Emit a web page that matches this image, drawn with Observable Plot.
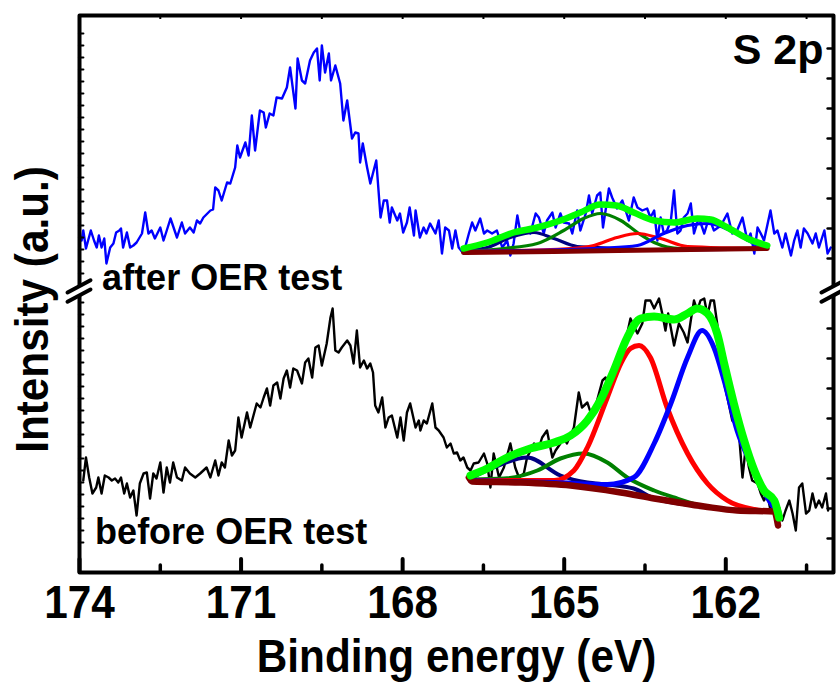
<!DOCTYPE html>
<html><head><meta charset="utf-8">
<script src="https://cdn.jsdelivr.net/npm/d3@7"></script>
<script src="https://cdn.jsdelivr.net/npm/@observablehq/plot@0.6"></script>
<style>
html,body{margin:0;padding:0;background:#fff;}
#chart{width:840px;height:682px;}
</style></head><body><div id="chart"></div>
<script>
// ---- axis ticks ----
const energyTicks = [174, 171, 168, 165, 162];
const minorTicks = [172.5, 169.5, 166.5, 163.5, 160.5];
const xLabel = "Binding energy (eV)";
const yLabel = "Intensity (a.u.)";
const panelTitle = "S 2p";
const breakLevel = 281;
const sampleLabels = [
  {text: "after OER test", e: 173.58, i: 283},
  {text: "before OER test", e: 173.71, i: 29}
];

// ---- measured spectra [binding energy, intensity] ----
const afterOER = [[173.96,332],[173.93,342],[173.88,324],[173.79,342],[173.73,332],[173.68,325],[173.64,337],[173.59,325],[173.54,334],[173.50,309],[173.43,325],[173.37,329],[173.32,340],[173.26,342],[173.23,344],[173.19,325],[173.12,340],[173.06,325],[173.00,327],[172.94,330],[172.84,339],[172.78,360],[172.72,339],[172.66,342],[172.60,334],[172.50,345],[172.44,332],[172.38,342],[172.31,354],[172.19,335],[172.10,350],[172.04,339],[171.95,345],[171.88,340],[171.82,352],[171.76,349],[171.70,355],[171.57,362],[171.52,363],[171.48,385],[171.42,382],[171.36,372],[171.26,390],[171.20,389],[171.11,405],[171.07,427],[171.02,415],[170.92,430],[170.86,417],[170.80,457],[170.74,422],[170.65,462],[170.58,460],[170.54,445],[170.47,459],[170.40,457],[170.34,475],[170.24,474],[170.15,485],[170.09,505],[169.99,464],[169.95,514],[169.87,492],[169.81,489],[169.72,512],[169.65,520],[169.59,524],[169.54,492],[169.50,527],[169.44,500],[169.37,519],[169.33,492],[169.25,507],[169.16,489],[169.10,452],[169.03,472],[168.94,434],[168.88,440],[168.82,439],[168.79,410],[168.74,429],[168.66,405],[168.60,389],[168.49,412],[168.41,355],[168.35,372],[168.29,372],[168.24,350],[168.20,365],[168.10,352],[168.05,359],[167.99,340],[167.92,350],[167.87,365],[167.79,337],[167.76,362],[167.68,335],[167.61,345],[167.56,339],[167.49,349],[167.39,339],[167.33,352],[167.27,319],[167.21,345],[167.14,342],[167.08,324],[167.02,342],[166.96,325],[166.87,319],[166.77,339],[166.71,350],[166.65,342],[166.56,354],[166.49,339],[166.43,342],[166.34,339],[166.25,342],[166.15,325],[166.06,332],[166.00,317],[165.94,329],[165.87,357],[165.81,339],[165.72,342],[165.63,339],[165.53,359],[165.47,355],[165.38,339],[165.32,352],[165.22,360],[165.16,345],[165.07,359],[165.01,350],[164.91,349],[164.85,339],[164.76,362],[164.70,342],[164.60,359],[164.54,377],[164.48,359],[164.39,377],[164.33,380],[164.28,345],[164.17,384],[164.11,375],[164.02,364],[163.92,372],[163.86,362],[163.80,352],[163.71,375],[163.64,365],[163.55,362],[163.46,364],[163.40,355],[163.33,362],[163.27,332],[163.21,355],[163.15,339],[163.09,342],[163.02,352],[162.96,382],[162.90,339],[162.84,342],[162.78,355],[162.71,359],[162.65,369],[162.59,339],[162.50,355],[162.40,339],[162.31,355],[162.22,342],[162.09,347],[161.97,359],[161.88,339],[161.79,342],[161.69,355],[161.60,332],[161.54,339],[161.47,319],[161.41,345],[161.35,339],[161.29,332],[161.17,362],[161.10,339],[161.04,342],[160.95,325],[160.89,339],[160.79,317],[160.73,332],[160.67,342],[160.61,325],[160.55,344],[160.48,339],[160.39,329],[160.33,339],[160.27,325],[160.17,342],[160.11,319],[160.05,325]];

const beforeOER = [[173.93,92],[173.88,115],[173.82,95],[173.76,79],[173.69,85],[173.65,95],[173.59,79],[173.53,97],[173.46,95],[173.40,92],[173.34,94],[173.28,90],[173.23,95],[173.17,79],[173.12,89],[173.06,75],[173.00,82],[172.94,57],[172.88,89],[172.81,99],[172.75,100],[172.69,74],[172.63,99],[172.57,94],[172.50,110],[172.44,80],[172.38,105],[172.32,90],[172.26,110],[172.19,95],[172.10,92],[172.04,105],[171.95,99],[171.85,95],[171.76,99],[171.70,102],[171.64,105],[171.57,95],[171.48,112],[171.42,97],[171.36,110],[171.30,105],[171.23,132],[171.17,117],[171.11,122],[171.05,155],[170.99,135],[170.89,160],[170.83,145],[170.77,157],[170.71,169],[170.64,165],[170.58,175],[170.52,184],[170.46,167],[170.40,187],[170.33,190],[170.27,174],[170.21,194],[170.15,202],[170.09,185],[170.03,204],[169.96,202],[169.87,189],[169.81,210],[169.75,214],[169.68,195],[169.62,225],[169.56,227],[169.50,207],[169.41,229],[169.34,255],[169.30,264],[169.25,222],[169.19,220],[169.13,225],[169.03,232],[168.97,227],[168.91,209],[168.85,242],[168.79,205],[168.72,212],[168.66,204],[168.60,209],[168.55,200],[168.51,167],[168.45,160],[168.38,175],[168.32,145],[168.26,155],[168.20,157],[168.10,135],[168.04,155],[167.98,132],[167.92,160],[167.86,169],[167.76,145],[167.70,152],[167.67,142],[167.61,152],[167.55,149],[167.45,169],[167.39,145],[167.33,142],[167.24,135],[167.18,125],[167.11,129],[167.05,119],[166.99,120],[166.93,112],[166.87,115],[166.80,105],[166.74,102],[166.68,109],[166.59,110],[166.49,119],[166.43,109],[166.37,85],[166.31,119],[166.21,95],[166.12,105],[166.00,129],[165.91,105],[165.84,95],[165.75,99],[165.69,115],[165.56,129],[165.47,125],[165.41,135],[165.32,142],[165.22,115],[165.16,122],[165.07,129],[165.01,135],[164.95,129],[164.82,145],[164.73,180],[164.67,165],[164.57,170],[164.48,155],[164.39,172],[164.29,192],[164.23,195],[164.14,182],[164.01,205],[163.89,224],[163.77,254],[163.64,239],[163.55,249],[163.49,272],[163.40,272],[163.33,264],[163.24,274],[163.18,259],[163.12,242],[163.07,259],[162.96,227],[162.87,249],[162.78,240],[162.71,230],[162.65,252],[162.59,272],[162.53,262],[162.47,272],[162.40,274],[162.34,257],[162.28,272],[162.22,272],[162.16,249],[162.10,225],[162.03,189],[161.97,175],[161.88,152],[161.82,149],[161.75,135],[161.69,95],[161.63,125],[161.57,105],[161.51,92],[161.41,89],[161.35,79],[161.29,72],[161.23,79],[161.17,62],[161.10,75],[161.01,65],[160.95,52],[160.89,62],[160.82,72],[160.76,59],[160.70,42],[160.64,85],[160.58,89],[160.51,59],[160.45,62],[160.39,79],[160.33,65],[160.27,72],[160.21,65],[160.14,79],[160.10,62]];

// ---- fitted curves, after OER ----
const afterBackground = [[166.87,320],[165.19,321],[163.33,322.5],[161.23,324]];
const afterEnvelope = [[166.87,324],[166.43,330],[165.94,340],[165.50,345],[165.07,352],[164.70,360],[164.33,368],[164.03,367],[163.71,360],[163.33,352],[162.96,350],[162.53,354],[162.28,353],[161.97,345],[161.60,334],[161.23,327]];
const afterPeak1 = [[166.87,322],[166.43,325],[166.00,335],[165.56,340],[165.19,334],[164.76,326],[164.20,324.5],[163.33,322.5],[161.23,324]];
const afterPeak2 = [[166.87,321],[166.12,324],[165.50,329],[165.01,342],[164.64,354],[164.33,359],[163.95,352],[163.64,340],[163.33,330],[162.84,324],[161.23,324]];
const afterPeak3 = [[166.87,321],[164.88,324],[164.45,327],[164.02,335],[163.64,339],[163.21,334],[162.71,326],[161.23,324]];
const afterPeak4 = [[166.87,321],[164.20,324.5],[163.64,327],[163.15,339],[162.71,347],[162.34,349],[161.91,342],[161.47,329],[161.23,325]];

// ---- fitted curves, before OER ----
const beforeBackground = [[166.77,95],[166.71,91],[165.81,90],[164.88,87],[163.95,80],[163.33,74],[162.40,66],[161.79,62],[161.10,61],[161.03,47]];
const beforeEnvelope = [[166.74,97],[166.43,104],[166.06,115],[165.63,124],[165.19,130],[164.88,137],[164.57,152],[164.33,172],[164.08,202],[163.83,235],[163.58,254],[163.33,256],[162.96,253],[162.71,259],[162.53,264],[162.34,259],[162.16,239],[162.03,209],[161.85,169],[161.66,132],[161.47,102],[161.29,82],[161.10,72],[161.01,55]];
const beforePeak1 = [[166.74,94],[166.31,105],[165.69,115],[165.07,97],[164.57,90],[164.20,88],[163.71,84],[163.33,74],[162.40,66],[161.79,62],[161.10,61]];
const beforePeak2 = [[166.74,93],[166.12,94],[165.50,102],[165.07,114],[164.64,119],[164.20,110],[163.83,95],[163.33,82],[162.96,75],[162.40,66],[161.79,62],[161.10,61]];
const beforePeak3 = [[166.74,92],[165.19,92],[164.82,102],[164.57,125],[164.20,175],[163.95,209],[163.77,224],[163.61,227],[163.40,215],[163.09,165],[162.71,119],[162.34,89],[161.97,72],[161.47,63],[161.10,61]];
const beforePeak4 = [[166.74,92],[165.19,90],[164.20,88],[163.71,95],[163.33,129],[163.02,169],[162.71,215],[162.44,242],[162.22,225],[162.03,192],[161.79,142],[161.47,102],[161.23,75],[161.07,62]];

// ---- small axis ticks on the side frames ----
const leftDots = d3.range(539, 290, -12).concat(d3.range(270, 20, -12));
const rightDots = d3.range(524, 300, -30).concat(d3.range(244, 20, -30));

const FONT = "'Liberation Sans', Arial, Helvetica, sans-serif";
const AXIS_SIZE = 47;
const ln = (data, stroke, w, curve = "monotone-x") =>
  Plot.line(data, {x: d => d[0], y: d => d[1], stroke, strokeWidth: w, curve,
                   strokeLinejoin: "round", strokeLinecap: "round"});

const breakMark = (index, scales) => {
  const x = scales.x, y = scales.y;
  const g = d3.create("svg:g");
  const ang = -28 * Math.PI / 180, ux = Math.cos(ang), uy = Math.sin(ang);
  for (const e of [174, 160]) {
    const cx = x(e), cy = y(breakLevel);
    g.append("line").attr("x1", cx - 7 * ux).attr("y1", cy - 7 * uy)
      .attr("x2", cx + 7 * ux).attr("y2", cy + 7 * uy)
      .attr("stroke", "white").attr("stroke-width", 10);
    for (const off of [-4.6, 4.6]) {
      g.append("line").attr("x1", cx - 13 * ux).attr("y1", cy + off - 13 * uy)
        .attr("x2", cx + 13 * ux).attr("y2", cy + off + 13 * uy)
        .attr("stroke", "black").attr("stroke-width", 4).attr("stroke-linecap", "round");
    }
  }
  return g.node();
};

const svg = Plot.plot({
  width: 840, height: 682,
  marginLeft: 79, marginRight: 7, marginTop: 15, marginBottom: 110,
  x: {domain: [174, 160], axis: null},
  y: {domain: [0, 557], axis: null},
  style: {fontFamily: FONT, background: "#fff", overflow: "visible"},
  marks: [
    ln(afterOER, "#0000ff", 2.4, "linear"),
    ln(beforeOER, "#000000", 2.4, "linear"),
    ln(afterPeak1, "#000080", 3.2),
    ln(afterPeak2, "#008000", 3.2),
    ln(afterPeak3, "#ff0000", 3.2),
    ln(afterPeak4, "#0000ff", 3.2),
    ln(afterBackground, "#800000", 5),
    ln(afterEnvelope, "#00ff00", 6.5),
    ln(beforePeak1, "#000080", 4),
    ln(beforePeak2, "#008000", 4),
    ln(beforePeak3, "#ff0000", 5),
    ln(beforePeak4, "#0000ff", 5),
    ln(beforeBackground, "#800000", 6.5),
    ln(beforeEnvelope, "#00ff00", 8),
    Plot.ruleX(energyTicks, {x: d => d, y1: 0, y2: 13, stroke: "black", strokeWidth: 4, strokeLinecap: "round"}),
    Plot.ruleX(minorTicks, {x: d => d, y1: 0, y2: 7, stroke: "black", strokeWidth: 3.5, strokeLinecap: "round"}),
    Plot.ruleX(energyTicks.concat(minorTicks), {x: d => d, y1: 553, y2: 557, stroke: "black", strokeWidth: 2}),
    Plot.ruleY(leftDots, {y: d => d, x1: 174, x2: 173.92, stroke: "black", strokeWidth: 2.2, strokeLinecap: "round"}),
    Plot.ruleY(rightDots, {y: d => d, x1: 160, x2: 160.1, stroke: "black", strokeWidth: 2.5, strokeLinecap: "round"}),
    Plot.frame({stroke: "black", strokeWidth: 4, strokeLinejoin: "round"}),
    breakMark,
    Plot.text(energyTicks, {x: d => d, text: d => String(d), frameAnchor: "bottom", dy: 45,
      lineAnchor: "bottom", textAnchor: "middle", fontSize: AXIS_SIZE, fontWeight: "bold", fill: "black"}),
    Plot.text([xLabel], {text: d => d, frameAnchor: "bottom", dy: 99, lineAnchor: "bottom",
      textAnchor: "middle", fontSize: AXIS_SIZE, fontWeight: "bold", fill: "black"}),
    Plot.text([yLabel], {text: d => d, frameAnchor: "left", dx: -32, dy: 15.5, rotate: -90,
      lineAnchor: "bottom", textAnchor: "middle", fontSize: AXIS_SIZE, fontWeight: "bold", fill: "black"}),
    Plot.text([panelTitle], {text: d => d, frameAnchor: "top-right", dx: -10, dy: 48, lineAnchor: "bottom",
      textAnchor: "end", fontSize: 43, fontWeight: "bold", fill: "black"}),
    Plot.text(sampleLabels, {x: "e", y: "i", text: "text", lineAnchor: "bottom", textAnchor: "start",
      fontSize: 36, fontWeight: "bold", fill: "black"})
  ]
});
document.getElementById("chart").appendChild(svg);

// condense the axis texts (tick labels and axis titles) horizontally
svg.querySelectorAll("text").forEach(t => {
  const fs = parseFloat(getComputedStyle(t).fontSize);
  if (Math.abs(fs - AXIS_SIZE) < 0.5) {
    const w = t.getComputedTextLength();
    if (w > 0) {
      t.setAttribute("textLength", (w * 0.9).toFixed(1));
      t.setAttribute("lengthAdjust", "spacingAndGlyphs");
    }
  }
});
</script>
</body></html>
